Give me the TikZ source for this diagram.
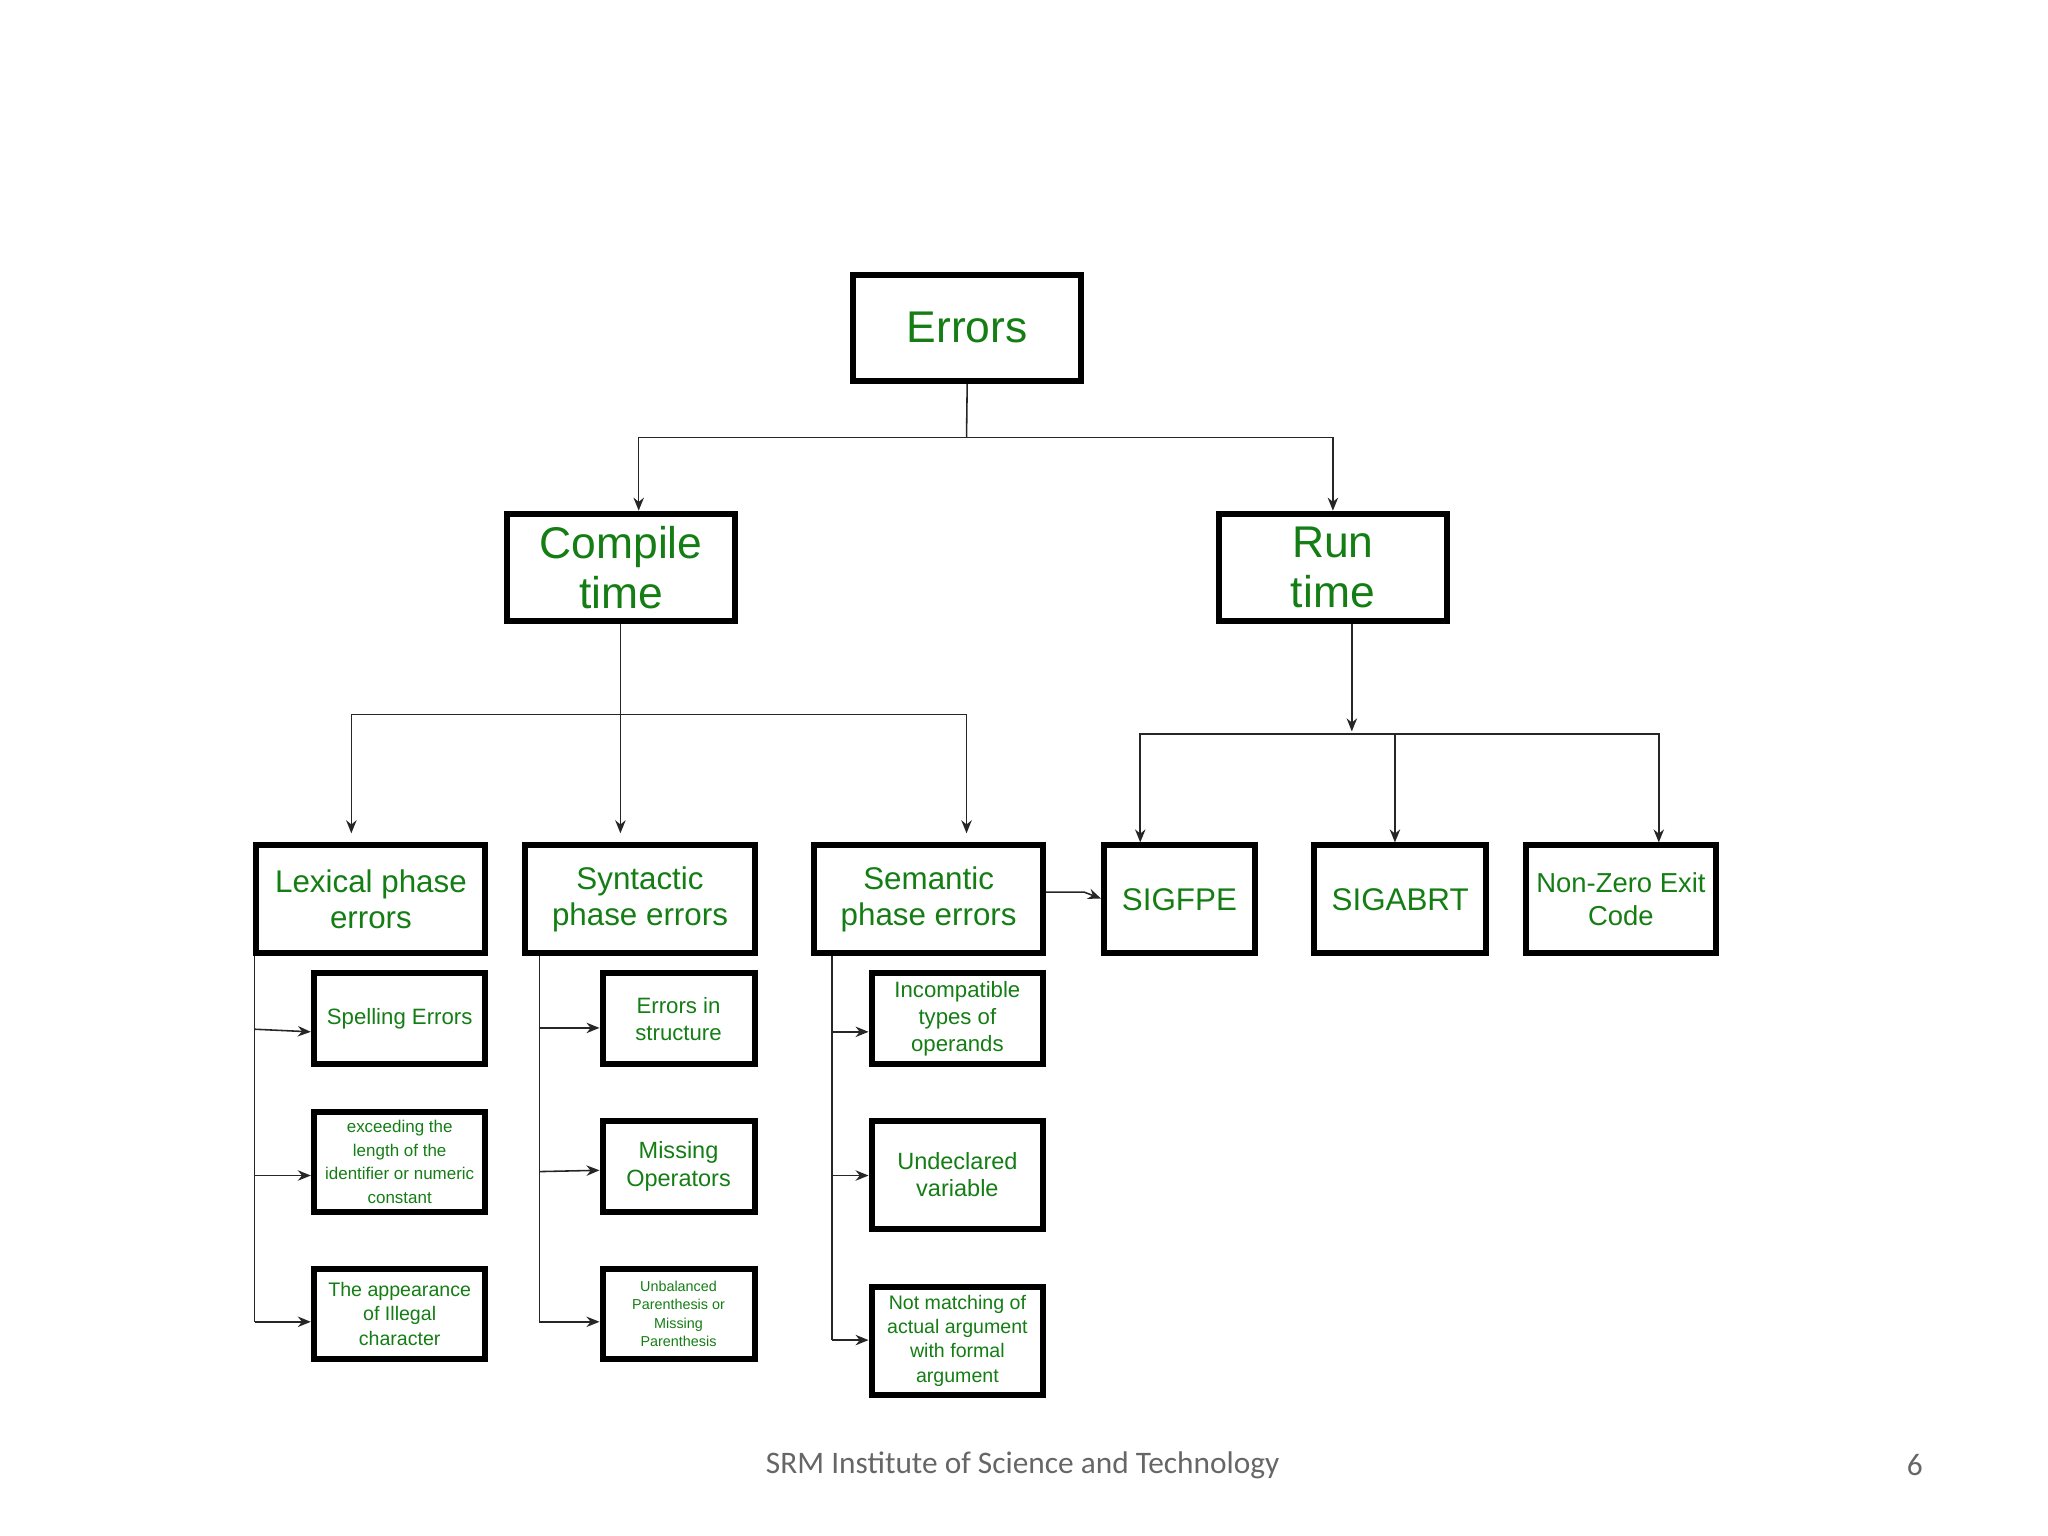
\documentclass[tikz,border=0pt]{standalone}
\usepackage{fontspec}
\setmainfont{Liberation Sans}
\newfontfamily\foot{Carlito}
\usetikzlibrary{arrows.meta}
\definecolor{tg}{RGB}{20,125,20}
\begin{document}
\begin{tikzpicture}[x=0.5pt,y=-0.5pt,
 bx/.style={draw=black,line width=2.3pt,text=tg,align=center,inner sep=1pt},
 ln/.style={draw=black!85,line width=0.6pt},
 ar/.style={ln,-{Stealth[length=5pt,width=4pt]}}]
\useasboundingbox (0,0) rectangle (1568,1176);
\newcommand{\bxat}[7]{\node[bx,minimum width=#4*0.5pt-2.3pt,minimum height=#5*0.5pt-2.3pt,font=#6] (#1) at (#2,#3) {#7};}
\bxat{err}{740.5}{251}{179}{86}{\fontsize{17}{19}\selectfont}{Errors}
\bxat{ct}{475.5}{434.5}{179}{87}{\fontsize{17}{19}\selectfont}{Compile\\time}
\bxat{rt}{1020.5}{434.5}{179}{87}{\fontsize{17}{19}\selectfont}{Run\\time}
\bxat{lex}{284}{688.5}{180}{87}{\fontsize{12}{14}\selectfont}{Lexical phase\\errors}
\bxat{syn}{490}{688.5}{180}{87}{\fontsize{12}{14}\selectfont}{Syntactic\\phase errors}
\bxat{sem}{711}{688.5}{180}{87}{\fontsize{12}{14}\selectfont}{Semantic\\phase errors}
\bxat{fpe}{903}{688.5}{120}{87}{\fontsize{12}{14}\selectfont}{SIGFPE}
\bxat{abrt}{1072}{688.5}{136}{87}{\fontsize{12}{14}\selectfont}{SIGABRT}
\bxat{nz}{1241}{688.5}{150}{87}{\fontsize{10.5}{12.5}\selectfont}{Non-Zero Exit\\Code}
\bxat{l1}{306}{780}{136}{74}{\fontsize{8.5}{10}\selectfont}{Spelling Errors}
\bxat{l2}{306}{889.5}{136}{81}{\fontsize{6.5}{9}\selectfont}{exceeding the\\length of the\\identifier or numeric\\constant}
\bxat{l3}{306}{1006}{136}{74}{\fontsize{7.5}{9.3}\selectfont}{The appearance\\of Illegal\\character}
\bxat{s1}{519.5}{780}{121}{74}{\fontsize{8.5}{10.5}\selectfont}{Errors in\\structure}
\bxat{s2}{519.5}{893}{121}{74}{\fontsize{9}{10.5}\selectfont}{Missing\\Operators}
\bxat{s3}{519.5}{1006}{121}{74}{\fontsize{5.5}{7}\selectfont}{Unbalanced\\Parenthesis or\\Missing\\Parenthesis}
\bxat{m1}{733}{780}{136}{74}{\fontsize{8.5}{10.5}\selectfont}{Incompatible\\types of\\operands}
\bxat{m2}{733}{899.5}{136}{87}{\fontsize{9}{10.5}\selectfont}{Undeclared\\variable}
\bxat{m3}{733}{1026.5}{136}{87}{\fontsize{7.5}{9.3}\selectfont}{Not matching of\\actual argument\\with formal\\argument}
% top level
\coordinate (j0) at (740,335);
\draw[ln] (err.south) -- (j0);
\draw[ar] (j0) -| (489,391);
\draw[ar] (j0) -| (rt.north);
% compile
\coordinate (j1) at (475,547);
\draw[ar] (475,478) -- (475,638);
\draw[ar] (j1) -| (269,638);
\draw[ar] (j1) -| (740,638);
% run
\coordinate (j2) at (1035,560);
\draw[ar] (1035,478) -- (j2);
\coordinate (j3) at (1068,562);
\draw[ar] (j3) -| (873,645);
\draw[ar] (j3) -- (1068,645);
\draw[ar] (j3) -| (1270,645);
\draw[ar] (801,683) -- (830,683) -- (843,688);
% lexical
\draw[ln] (195,732) -- (195,1012);
\draw[ar] (195,788) -- (l1.west|-195,790);
\draw[ar] (195,900) -- (l2.west|-195,900);
\draw[ar] (195,1012) -- (l3.west|-195,1012);
% syntactic
\draw[ln] (413,732) -- (413,1012);
\draw[ar] (413,787) -- (s1.west|-413,787);
\draw[ar] (413,897) -- (s2.west|-413,896);
\draw[ar] (413,1012) -- (s3.west|-413,1012);
% semantic
\draw[ln] (637,732) -- (637,1026);
\draw[ar] (637,790) -- (m1.west|-637,790);
\draw[ar] (637,900) -- (m2.west|-637,900);
\draw[ar] (637,1026) -- (m3.west|-637,1026);
\node[font=\foot\fontsize{12}{14}\selectfont,text=black!60] (ft) at (783,1122) {SRM Institute of Science and Technology};
\node[font=\foot\fontsize{12}{14}\selectfont,text=black!60] (pg) at (1466,1122) {6};
\end{tikzpicture}
\end{document}
